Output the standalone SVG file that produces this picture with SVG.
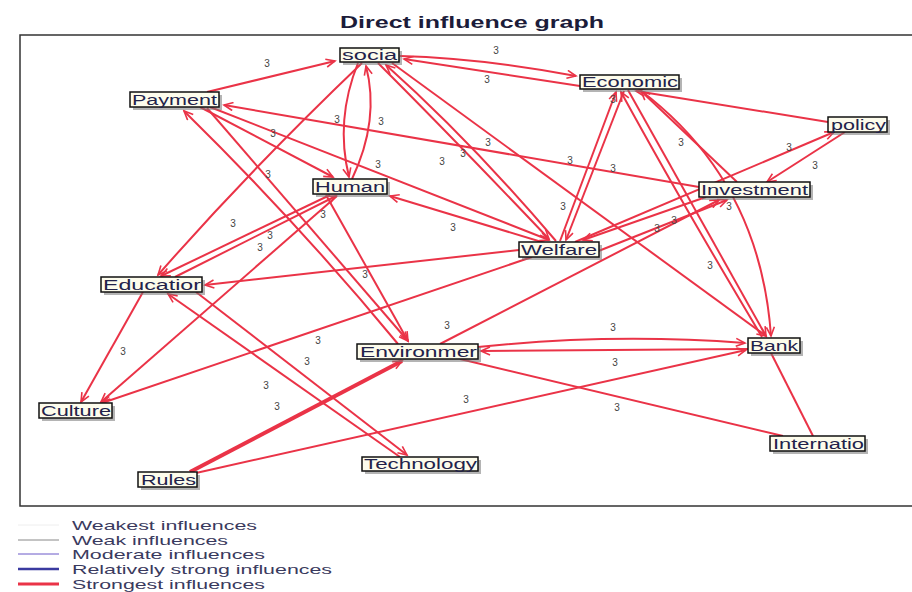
<svg xmlns="http://www.w3.org/2000/svg" width="912" height="592" viewBox="0 0 912 592">
<defs>
<marker id="arr" markerUnits="userSpaceOnUse" markerWidth="12" markerHeight="10" refX="10" refY="5" orient="auto">
<path d="M1,1 L10,5 L1,9" fill="none" stroke="#ea3347" stroke-width="1.6"/>
</marker>
<style>
.e{fill:none;stroke:#ea3347;stroke-width:2}
.a{marker-end:url(#arr)}
.lb{font-family:"Liberation Sans",Arial,sans-serif;font-size:10px;fill:#444;text-anchor:middle}
.bx{fill:#fdfcec;stroke:#111;stroke-width:1.5}
.sh{fill:#777;opacity:0.55}
.nt{font-family:"Liberation Sans",Arial,sans-serif;font-size:14px;fill:#22224a}
.lg{font-family:"Liberation Sans",Arial,sans-serif;font-size:13px;fill:#3a3a5e}
</style>
</defs>
<rect x="0" y="0" width="912" height="592" fill="#ffffff"/>
<text x="340" y="28" textLength="264" lengthAdjust="spacingAndGlyphs" font-family="Liberation Sans, Arial, sans-serif" font-size="17" font-weight="bold" fill="#1c1c3a">Direct influence graph</text>
<rect x="20" y="35" width="900" height="471" fill="none" stroke="#333" stroke-width="1.5"/>

<g id="connectors">
<path class="e a" d="M207,92 L335,61"/>
<path class="e a" d="M400,56 Q480,58 576,76"/>
<path class="e a" d="M580,86 L404,59"/>
<path class="e a" d="M358,63 Q335,120 349,177"/>
<path class="e a" d="M352,179 Q380,120 366,66"/>
<path class="e a" d="M699,187 L224,105"/>
<path class="e a" d="M200,107 L333,177"/>
<path class="e a" d="M210,107 L549,240"/>
<path class="e a" d="M207,108 L408,341"/>
<path class="e a" d="M398,344 Q300,225 184,111"/>
<path class="e a" d="M378,63 Q455,140 549,239"/>
<path class="e a" d="M556,241 Q470,140 386,65"/>
<path class="e a" d="M392,63 L766,336"/>
<path class="e a" d="M362,63 Q250,170 158,275"/>
<path class="e a" d="M330,195 L161,276"/>
<path class="e a" d="M175,277 L336,196"/>
<path class="e a" d="M337,196 L101,402"/>
<path class="e a" d="M326,195 L408,341"/>
<path class="e a" d="M545,243 L390,196"/>
<path class="e a" d="M519,250 L205,285"/>
<path class="e a" d="M532,257 L102,403"/>
<path class="e a" d="M143,292 L81,402"/>
<path class="e a" d="M196,292 L407,455"/>
<path class="e a" d="M400,457 L168,294"/>
<path class="e a" d="M560,241 L616,92"/>
<path class="e a" d="M624,91 L566,240"/>
<path class="e a" d="M596,252 L727,200"/>
<path class="e a" d="M706,197 L583,240"/>
<path class="e a" d="M575,242 L834,132"/>
<path class="e a" d="M845,132 L767,182"/>
<path class="e a" d="M828,122 L636,91"/>
<path class="e a" d="M737,182 L641,91"/>
<path class="e a" d="M628,90 L766,336"/>
<path class="e a" d="M762,337 Q680,200 621,92"/>
<path class="e a" d="M640,90 Q760,180 771,336"/>
<path class="e a" d="M440,344 L719,200"/>
<path class="e a" d="M478,347 Q610,333 745,343"/>
<path class="e a" d="M748,349 L481,351"/>
<path class="e a" d="M190,472 L402,361" style="stroke-width:4"/>
<path class="e a" d="M196,473 L746,350"/>
<path class="e" d="M460,359 L783,436"/>
<path class="e" d="M771,353 L813,436"/>
</g>

<g id="edge-labels">
<text class="lb" x="267" y="67">3</text>
<text class="lb" x="496" y="54">3</text>
<text class="lb" x="487" y="83">3</text>
<text class="lb" x="337" y="123">3</text>
<text class="lb" x="381" y="125">3</text>
<text class="lb" x="273" y="137">3</text>
<text class="lb" x="378" y="168">3</text>
<text class="lb" x="442" y="165">3</text>
<text class="lb" x="463" y="157">3</text>
<text class="lb" x="488" y="146">3</text>
<text class="lb" x="570" y="164">3</text>
<text class="lb" x="613" y="103">3</text>
<text class="lb" x="613" y="172">3</text>
<text class="lb" x="681" y="146">3</text>
<text class="lb" x="789" y="151">3</text>
<text class="lb" x="815" y="169">3</text>
<text class="lb" x="563" y="210">3</text>
<text class="lb" x="729" y="210">3</text>
<text class="lb" x="674" y="224">3</text>
<text class="lb" x="657" y="232">3</text>
<text class="lb" x="710" y="269">3</text>
<text class="lb" x="233" y="227">3</text>
<text class="lb" x="270" y="239">3</text>
<text class="lb" x="260" y="251">3</text>
<text class="lb" x="323" y="218">3</text>
<text class="lb" x="268" y="178">3</text>
<text class="lb" x="453" y="231">3</text>
<text class="lb" x="365" y="278">3</text>
<text class="lb" x="123" y="355">3</text>
<text class="lb" x="318" y="344">3</text>
<text class="lb" x="307" y="365">3</text>
<text class="lb" x="447" y="329">3</text>
<text class="lb" x="613" y="331">3</text>
<text class="lb" x="615" y="366">3</text>
<text class="lb" x="266" y="389">3</text>
<text class="lb" x="277" y="410">3</text>
<text class="lb" x="466" y="403">3</text>
<text class="lb" x="617" y="411">3</text>
</g>

<g id="node-socia"><rect class="sh" x="343" y="51" width="59" height="14"/><rect class="bx" x="340" y="48" width="59" height="14"/><text class="nt" x="342" y="60" textLength="55" lengthAdjust="spacingAndGlyphs">socia</text></g>
<g id="node-payment"><rect class="sh" x="133" y="95" width="89" height="15"/><rect class="bx" x="130" y="92" width="89" height="15"/><text class="nt" x="132" y="105" textLength="85" lengthAdjust="spacingAndGlyphs">Payment</text></g>
<g id="node-human"><rect class="sh" x="316" y="182" width="74" height="15"/><rect class="bx" x="313" y="179" width="74" height="15"/><text class="nt" x="315" y="192" textLength="70" lengthAdjust="spacingAndGlyphs">Human</text></g>
<g id="node-economic"><rect class="sh" x="583" y="78" width="99" height="14"/><rect class="bx" x="580" y="75" width="99" height="14"/><text class="nt" x="582" y="87" textLength="96" lengthAdjust="spacingAndGlyphs">Economic</text></g>
<g id="node-policy"><rect class="sh" x="831" y="120" width="59" height="15"/><rect class="bx" x="828" y="117" width="59" height="15"/><text class="nt" x="831" y="130" textLength="55" lengthAdjust="spacingAndGlyphs">policy</text></g>
<g id="node-investment"><rect class="sh" x="702" y="185" width="111" height="15"/><rect class="bx" x="699" y="182" width="111" height="15"/><text class="nt" x="701" y="195" textLength="107" lengthAdjust="spacingAndGlyphs">Investment</text></g>
<g id="node-welfare"><rect class="sh" x="522" y="245" width="80" height="15"/><rect class="bx" x="519" y="242" width="80" height="15"/><text class="nt" x="521" y="255" textLength="76" lengthAdjust="spacingAndGlyphs">Welfare</text></g>
<g id="node-education"><rect class="sh" x="104" y="280" width="101" height="15"/><rect class="bx" x="101" y="277" width="101" height="15"/><text class="nt" x="103" y="290" textLength="98" lengthAdjust="spacingAndGlyphs">Educatior</text></g>
<g id="node-environment"><rect class="sh" x="360" y="347" width="121" height="15"/><rect class="bx" x="357" y="344" width="121" height="15"/><text class="nt" x="360" y="357" textLength="117" lengthAdjust="spacingAndGlyphs">Environmer</text></g>
<g id="node-bank"><rect class="sh" x="751" y="341" width="52" height="15"/><rect class="bx" x="748" y="338" width="52" height="15"/><text class="nt" x="750" y="351" textLength="48" lengthAdjust="spacingAndGlyphs">Bank</text></g>
<g id="node-culture"><rect class="sh" x="42" y="406" width="73" height="15"/><rect class="bx" x="39" y="403" width="73" height="15"/><text class="nt" x="41" y="416" textLength="70" lengthAdjust="spacingAndGlyphs">Culture</text></g>
<g id="node-rules"><rect class="sh" x="141" y="475" width="59" height="15"/><rect class="bx" x="138" y="472" width="59" height="15"/><text class="nt" x="141" y="485" textLength="55" lengthAdjust="spacingAndGlyphs">Rules</text></g>
<g id="node-technology"><rect class="sh" x="365" y="460" width="116" height="14"/><rect class="bx" x="362" y="457" width="116" height="14"/><text class="nt" x="364" y="469" textLength="113" lengthAdjust="spacingAndGlyphs">Technology</text></g>
<g id="node-internatio"><rect class="sh" x="773" y="439" width="95" height="15"/><rect class="bx" x="770" y="436" width="95" height="15"/><text class="nt" x="773" y="449" textLength="91" lengthAdjust="spacingAndGlyphs">Internatio</text></g>

<g id="legend">
<line x1="18" y1="525" x2="59" y2="525" stroke="#eeeeee" stroke-width="1"/>
<line x1="18" y1="540" x2="59" y2="540" stroke="#888888" stroke-width="1"/>
<line x1="18" y1="554" x2="59" y2="554" stroke="#6a58c8" stroke-width="1"/>
<line x1="18" y1="569" x2="59" y2="569" stroke="#3a3aa0" stroke-width="2.5"/>
<line x1="18" y1="584" x2="59" y2="584" stroke="#ea3347" stroke-width="3"/>
<text class="lg" x="72" y="530" textLength="185" lengthAdjust="spacingAndGlyphs">Weakest influences</text>
<text class="lg" x="72" y="545" textLength="156" lengthAdjust="spacingAndGlyphs">Weak influences</text>
<text class="lg" x="72" y="559" textLength="193" lengthAdjust="spacingAndGlyphs">Moderate influences</text>
<text class="lg" x="72" y="574" textLength="260" lengthAdjust="spacingAndGlyphs">Relatively strong influences</text>
<text class="lg" x="72" y="589" textLength="193" lengthAdjust="spacingAndGlyphs">Strongest influences</text>
</g>
</svg>
